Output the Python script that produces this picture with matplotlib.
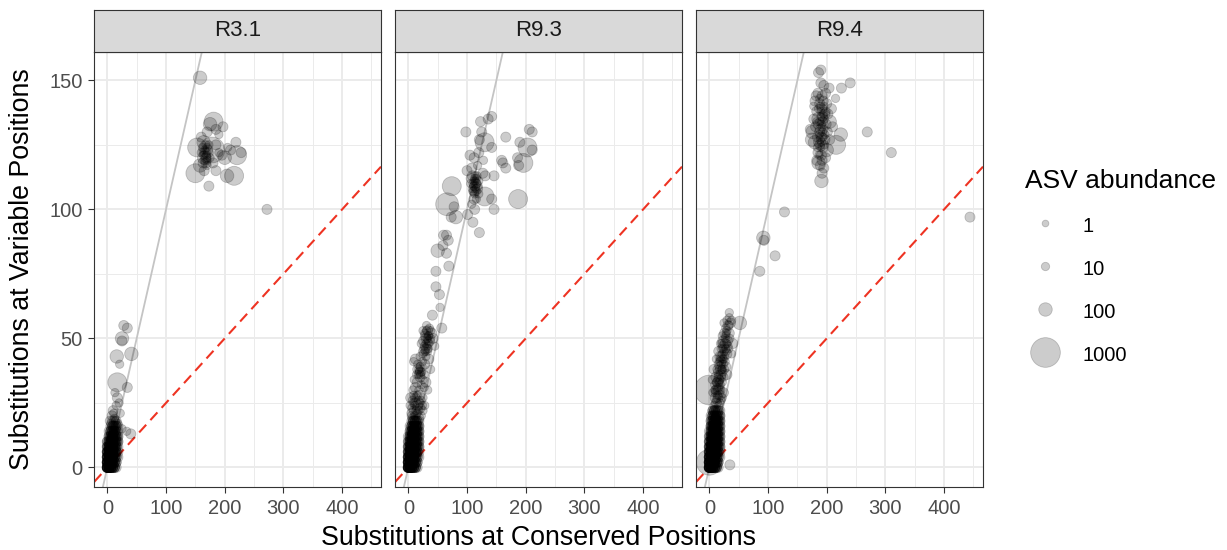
import numpy as np
import matplotlib
matplotlib.use("Agg")
import matplotlib.pyplot as plt

plt.rcParams['font.family'] = ['Liberation Sans', 'DejaVu Sans']

# Data
panels = ["R3.1", "R9.3", "R9.4"]
legend_abund = [1, 10, 100, 1000]

# dense core near the origin: number of ASVs at each (conserved, variable) cell
core_x = [0, 3, 6, 9, 12, 15, 18]
core_abund = 30

core_y31 = [0, 2, 4, 6, 8, 10, 12, 14, 16, 18]
core_n31 = [
    [9, 8, 6, 4, 3, 1, 0],
    [8, 7, 6, 4, 3, 2, 0],
    [6, 6, 6, 5, 3, 2, 1],
    [5, 6, 6, 5, 3, 3, 1],
    [3, 5, 5, 5, 3, 3, 1],
    [2, 3, 5, 5, 3, 3, 2],
    [0, 2, 3, 5, 3, 3, 2],
    [0, 1, 3, 3, 3, 2, 1],
    [0, 0, 1, 2, 2, 2, 1],
    [0, 0, 0, 1, 1, 1, 0],
]

core_y93 = [0, 2, 4, 6, 8, 10, 12, 14, 16, 18]
core_n93 = [
    [9, 8, 6, 4, 3, 1, 0],
    [8, 7, 6, 4, 3, 2, 0],
    [6, 7, 6, 5, 3, 2, 1],
    [4, 6, 6, 6, 4, 3, 1],
    [3, 5, 6, 6, 4, 3, 2],
    [2, 4, 6, 6, 4, 3, 2],
    [1, 3, 5, 6, 4, 3, 2],
    [0, 2, 4, 5, 4, 3, 2],
    [0, 1, 3, 4, 4, 3, 2],
    [0, 0, 1, 3, 3, 2, 1],
]

core_y94 = [0, 2, 4, 6, 8, 10, 12, 14, 16, 18, 20, 22]
core_n94 = [
    [10, 9, 6, 4, 3, 1, 0],
    [9, 8, 7, 5, 3, 2, 0],
    [7, 7, 7, 6, 3, 2, 1],
    [5, 7, 7, 6, 4, 3, 1],
    [4, 6, 7, 6, 4, 3, 2],
    [3, 4, 6, 6, 5, 3, 2],
    [2, 4, 6, 6, 5, 3, 2],
    [1, 3, 4, 6, 5, 3, 2],
    [0, 3, 4, 5, 4, 3, 2],
    [0, 2, 3, 4, 4, 3, 2],
    [0, 1, 3, 3, 3, 2, 2],
    [0, 0, 2, 3, 2, 2, 1],
]

# the other ASVs: conserved subs, variable subs, abundance
x31 = [158, 181, 164, 197, 170, 175, 185, 160, 190, 219,
       221, 228, 204, 216, 173, 150, 153, 178, 165, 168,
       172, 175, 170, 168, 163, 160, 180, 185, 195, 200,
       205, 210, 165, 158, 185, 190, 167, 164, 170, 272,
       28, 34, 25, 25, 16, 41, 21, 17, 34, 13,
       17, 20, 10, 11, 40, 33, 8, 12, 5, 14,
       6, 18, 10, 22, 15, 25,
       166, 169, 171, 165, 168, 173, 162, 170]
y31 = [151, 134, 126, 132, 130, 133, 131, 128, 129, 126,
       121, 122, 113, 113, 109, 114, 124, 123, 120, 118,
       122, 120, 124, 125, 118, 122, 118, 125, 121, 120,
       124, 123, 115, 117, 115, 122, 122, 121, 119, 100,
       55, 54, 50, 49, 43, 44, 40, 33, 31, 29,
       27, 25, 22, 21, 13, 14, 20, 19, 18, 18,
       17, 17, 16, 21, 24, 15,
       123, 121, 123, 119, 120, 125, 124, 117]
a31 = [100, 300, 100, 30, 30, 100, 30, 30, 10, 30,
       300, 30, 100, 300, 30, 300, 300, 700, 100, 30,
       30, 10, 10, 10, 30, 10, 30, 30, 30, 100,
       10, 30, 30, 100, 30, 10, 30, 10, 10, 30,
       30, 30, 100, 30, 100, 100, 10, 300, 30, 10,
       30, 10, 30, 10, 30, 10, 30, 10, 30, 10,
       10, 10, 30, 10, 10, 10,
       10, 10, 30, 10, 30, 10, 10, 10]

x93 = [142, 136, 123, 98, 125, 166, 121, 130, 142, 190,
       206, 211, 203, 211, 105, 112, 120, 128, 108, 100,
       118, 127, 159, 161, 166, 186, 188, 196, 107, 113,
       115, 112, 117, 110, 114, 131, 146, 74, 130, 66,
       78, 73, 81, 113, 142, 146, 187, 101, 110, 121,
       60, 65, 68, 59, 50, 65, 69, 47, 47, 53,
       108, 116, 112, 120, 41, 57, 45, 42, 22, 54,
       110, 116, 113, 118, 109, 120,
       111, 114, 116, 112, 115, 109, 117, 113, 106, 119,
       5, 8, 12, 15, 18, 22, 10, 6, 14, 20,
       25, 8, 12, 17, 22, 4, 10, 15, 19, 25,
       28, 3, 8, 12, 18, 22, 15, 27, 10, 20,
       25, 30, 14, 33, 20, 18, 22, 16, 24, 28,
       12, 20, 30, 35, 25, 9, 38, 28, 32, 26,
       35, 30, 38, 28, 33, 36, 40, 25, 31, 34,
       30, 32, 29, 34, 27, 36, 31, 33, 26, 38,
       17, 19, 21, 16, 20, 7, 9, 11, 6, 13,
       10, 13, 16, 20, 24, 18, 27, 23, 29, 31,
       35, 33]
y93 = [136, 135, 134, 130, 130, 128, 127, 126, 124, 126,
       131, 130, 124, 123, 121, 120, 122, 119, 116, 115,
       117, 114, 119, 118, 116, 120, 117, 118, 112, 109,
       108, 111, 110, 107, 113, 113, 113, 109, 105, 102,
       101, 97, 97, 100, 104, 100, 104, 98, 95, 91,
       90, 90, 88, 86, 84, 83, 78, 76, 70, 67,
       102, 104, 104, 106, 59, 54, 47, 50, 48, 62,
       110, 112, 106, 108, 113, 111,
       109, 111, 107, 107, 110, 108, 113, 112, 110, 109,
       20, 19, 20, 21, 19, 20, 22, 23, 23, 23,
       22, 25, 25, 26, 26, 27, 27, 28, 28, 27,
       24, 24, 30, 31, 30, 32, 33, 31, 34, 35,
       34, 33, 36, 30, 37, 38, 39, 40, 41, 40,
       42, 43, 43, 42, 44, 41, 38, 46, 47, 49,
       48, 50, 50, 52, 53, 54, 52, 53, 55, 51,
       48, 50, 51, 46, 47, 49, 53, 45, 45, 53,
       36, 37, 36, 38, 39, 26, 28, 24, 21, 27,
       20, 22, 24, 25, 24, 22, 36, 37, 45, 46,
       51, 49]
a93 = [30, 30, 30, 30, 30, 30, 30, 300, 30, 30,
       30, 30, 300, 30, 30, 30, 30, 10, 30, 30,
       10, 30, 30, 30, 30, 30, 30, 300, 30, 30,
       10, 10, 10, 10, 10, 30, 30, 300, 300, 500,
       30, 30, 100, 30, 30, 30, 300, 30, 30, 30,
       30, 30, 30, 30, 100, 30, 30, 30, 30, 30,
       10, 10, 30, 10, 30, 30, 10, 30, 10, 10,
       10, 10, 10, 30, 30, 10,
       10, 10, 10, 30, 30, 10, 10, 10, 10, 10,
       10, 30, 10, 10, 30, 10, 30, 10, 10, 30,
       10, 10, 30, 10, 10, 30, 10, 10, 30, 10,
       10, 10, 10, 30, 10, 10, 30, 10, 10, 30,
       10, 30, 10, 10, 30, 10, 30, 10, 10, 30,
       30, 10, 10, 30, 10, 10, 10, 30, 10, 30,
       10, 30, 10, 10, 30, 10, 30, 10, 10, 10,
       10, 10, 30, 10, 10, 30, 10, 10, 30, 10,
       10, 10, 10, 30, 10, 10, 10, 10, 30, 10,
       10, 10, 30, 10, 10, 10, 10, 10, 10, 30,
       10, 10]

x94 = [190, 186, 190, 240, 225, 204, 185, 192, 198, 180,
       188, 195, 200, 183, 190, 197, 202, 178, 186, 193,
       199, 205, 181, 189, 195, 201, 176, 184, 191, 197,
       180, 188, 194, 200, 185, 191, 198, 183, 189, 186,
       195, 192, 224, 216, 269, 310, 191, 208, 210, 175,
       172, 215, 205, 182, 195, 178, 190, 192, 188, 194,
       187, 193, 189, 191, 128, 92, 93, 112, 86, 444,
       0, 0, 35,
       188, 194, 186, 192, 196, 185, 191, 188, 194, 186,
       190, 196, 184, 192, 187, 193, 189, 197, 183, 199,
       8, 12, 16, 20, 10, 14, 18, 22, 6, 12,
       16, 20, 24, 9, 14, 18, 22, 11, 16, 20,
       25, 13, 18, 22, 15, 20, 24, 28, 12, 18,
       22, 26, 16, 20, 24, 28, 19, 23, 27, 31,
       22, 26, 30, 34, 28, 32, 25, 36, 30, 34,
       38, 34, 52, 40, 38, 8, 5, 30, 35, 26,
       30, 32, 30, 33, 21, 19, 23, 15, 17, 13,
       10, 28, 29, 25, 21, 27,
       12, 15, 18, 9, 15, 19, 12, 16, 21, 14,
       19, 23, 17, 21, 25, 23, 27, 21, 29, 33]
y94 = [154, 153, 149, 149, 147, 147, 145, 144, 145, 142,
       141, 140, 141, 138, 138, 137, 137, 135, 135, 134,
       133, 134, 132, 131, 131, 130, 130, 128, 128, 127,
       126, 125, 124, 123, 122, 121, 120, 119, 117, 118,
       116, 114, 129, 125, 130, 122, 111, 139, 132, 127,
       131, 143, 127, 144, 148, 140, 136, 132, 134, 137,
       129, 130, 140, 126, 99, 89, 88, 82, 76, 97,
       30, 2, 1,
       143, 142, 139, 139, 135, 133, 133, 130, 128, 126,
       124, 125, 124, 119, 121, 136, 127, 129, 134, 138,
       24, 25, 24, 26, 27, 28, 28, 27, 29, 30,
       31, 30, 29, 32, 33, 34, 33, 35, 36, 36,
       35, 38, 39, 38, 40, 41, 40, 39, 42, 43,
       44, 43, 45, 46, 47, 46, 48, 49, 50, 49,
       51, 52, 53, 52, 54, 55, 56, 56, 57, 58,
       57, 60, 56, 48, 44, 38, 34, 44, 50, 38,
       36, 47, 48, 46, 40, 42, 42, 35, 33, 31,
       29, 51, 45, 45, 38, 41,
       26, 27, 25, 30, 30, 32, 33, 34, 35, 37,
       38, 37, 41, 43, 42, 46, 48, 48, 52, 55]
a94 = [30, 30, 30, 30, 30, 30, 30, 30, 30, 30,
       30, 10, 30, 30, 10, 30, 30, 30, 100, 30,
       30, 100, 30, 30, 10, 30, 100, 30, 30, 30,
       100, 30, 30, 100, 30, 30, 30, 30, 30, 100,
       30, 30, 100, 300, 30, 30, 100, 30, 30, 100,
       30, 10, 30, 30, 30, 10, 10, 10, 10, 10,
       10, 10, 10, 10, 30, 100, 30, 30, 30, 30,
       1000, 700, 30,
       10, 30, 10, 30, 10, 30, 10, 30, 10, 30,
       10, 10, 10, 30, 10, 30, 10, 10, 10, 10,
       10, 30, 10, 10, 30, 10, 30, 10, 10, 30,
       10, 10, 30, 10, 30, 10, 10, 30, 10, 30,
       10, 10, 30, 10, 10, 30, 10, 30, 10, 30,
       10, 10, 30, 10, 30, 10, 10, 30, 10, 30,
       10, 30, 10, 30, 10, 30, 10, 30, 10, 10,
       10, 10, 100, 30, 10, 30, 10, 30, 10, 10,
       30, 10, 10, 10, 10, 10, 10, 10, 10, 10,
       10, 10, 10, 10, 10, 10,
       10, 30, 10, 10, 30, 10, 10, 30, 10, 10,
       30, 10, 10, 30, 10, 10, 30, 10, 10, 10]

cores = [(core_y31, core_n31), (core_y93, core_n93), (core_y94, core_n94)]
points = [(x31, y31, a31), (x93, y93, a93), (x94, y94, a94)]


def area(a):
    # marker area (pt^2) for an abundance
    d_px = 6.0 + 0.75 * np.sqrt(np.asarray(a, dtype=float))
    return (d_px * 0.72) ** 2


W, H = 1227, 550
fig = plt.figure(figsize=(W / 100, H / 100), dpi=100)

pw = 286.7
gap = 14.3
left0 = 94.3
p_top, p_bot, s_top = 51.7, 487.3, 10

pt_style = dict(facecolor=(0, 0, 0, 0.2), edgecolor=(0, 0, 0, 0.2), linewidths=0.6)

for i, name in enumerate(panels):
    l = left0 + i * (pw + gap)
    ax = fig.add_axes([l / W, (H - p_bot) / H, pw / W, (p_bot - p_top) / H])
    st = fig.add_axes([l / W, (H - p_top) / H, pw / W, (p_top - s_top) / H])

    cy_vals, cn = cores[i]
    gx, gy = np.meshgrid(core_x, cy_vals)
    n = np.array(cn).ravel()
    cx = np.repeat(gx.ravel(), n)
    cyy = np.repeat(gy.ravel(), n)
    px, py, pa = points[i]
    xs = np.concatenate([cx, px])
    ys = np.concatenate([cyy, py])
    ab = np.concatenate([np.full(len(cx), core_abund), pa])

    ax.axline((0, 0), slope=1, color='#C4C4C4', lw=1.3, zorder=1)
    ax.axline((0, 0), slope=0.25, color='#EE3322', lw=1.5, dashes=(5, 3), zorder=1)
    ax.scatter(xs, ys, s=area(ab), zorder=2, **pt_style)

    ax.set_xlim(-22.2, 466.2)
    ax.set_ylim(-7.7, 161.1)
    ax.set_xticks([0, 100, 200, 300, 400])
    ax.set_xticks([50, 150, 250, 350, 450], minor=True)
    ax.set_yticks([0, 50, 100, 150])
    ax.set_yticks([25, 75, 125], minor=True)
    ax.grid(which='major', color='#EBEBEB', lw=1.4)
    ax.grid(which='minor', color='#EBEBEB', lw=0.7)
    ax.set_axisbelow(True)
    ax.tick_params(which='minor', length=0)
    ax.tick_params(which='major', length=4.5, width=0.8, color='#333333',
                   labelsize=14.5, labelcolor='#4D4D4D', pad=4)
    if i > 0:
        ax.tick_params(axis='y', left=False, labelleft=False)
    for sp in ax.spines.values():
        sp.set_color('#333333')
        sp.set_linewidth(0.8)

    st.set_facecolor('#D9D9D9')
    st.set_xticks([])
    st.set_yticks([])
    for sp in st.spines.values():
        sp.set_color('#333333')
        sp.set_linewidth(0.8)
    st.text(0.5, 0.5, name, ha='center', va='center', fontsize=16,
            color='#1A1A1A', transform=st.transAxes)

fig.text((left0 + 1.5 * pw + gap) / W, 5 / H,
         "Substitutions at Conserved Positions", ha='center', va='baseline',
         fontsize=19.3)
fig.text(22 / W, (H - (p_top + p_bot) / 2) / H,
         "Substitutions at Variable Positions", ha='center', va='center',
         rotation=90, fontsize=19.3)

handles = [plt.scatter([], [], s=area(a), **pt_style) for a in legend_abund]
fig.legend(handles, [str(a) for a in legend_abund], title="ASV abundance",
           loc='upper left', bbox_to_anchor=(1007 / W, (H - 151) / H),
           frameon=False, fontsize=14.5, title_fontsize=19,
           alignment='left', labelspacing=1.12, handletextpad=0.85,
           handleheight=1.1, scatteryoffsets=[0.5])

fig.savefig("out.png", dpi=100)
